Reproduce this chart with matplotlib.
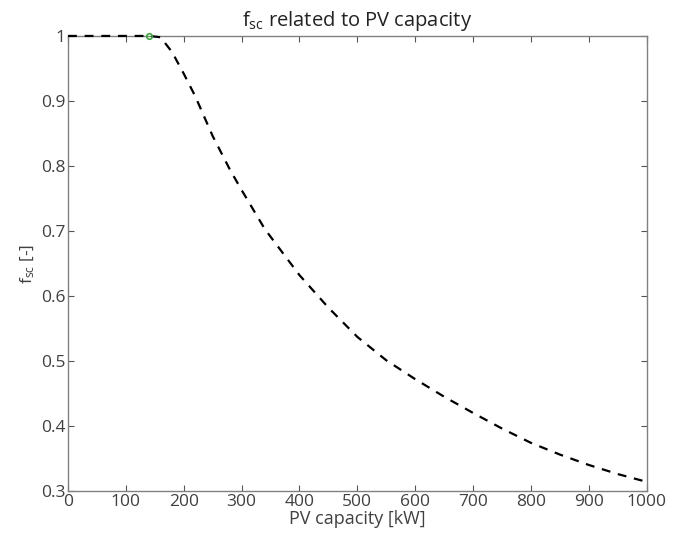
import matplotlib
matplotlib.use("Agg")
import matplotlib.pyplot as plt

# PV capacity [kW] and f_sc
pv_kw = [0, 50, 100, 140, 160, 180, 200, 220, 250, 280, 300, 340, 400, 450,
         500, 550, 600, 650, 700, 750, 800, 850, 900, 950, 1000]
f_sc = [1.0, 1.0, 1.0, 1.0, 0.998, 0.975, 0.942, 0.907, 0.846, 0.794, 0.763,
        0.703, 0.632, 0.582, 0.537, 0.501, 0.472, 0.445, 0.420, 0.396, 0.374,
        0.356, 0.340, 0.326, 0.314]

marker_x = [140]
marker_y = [1.0]

x_ticks = [0, 100, 200, 300, 400, 500, 600, 700, 800, 900, 1000]
y_ticks = [0.3, 0.4, 0.5, 0.6, 0.7, 0.8, 0.9, 1.0]
y_labels = ["0.3", "0.4", "0.5", "0.6", "0.7", "0.8", "0.9", "1"]

plt.rcParams["font.family"] = ["Open Sans", "DejaVu Sans"]
plt.rcParams["mathtext.fontset"] = "custom"
plt.rcParams["mathtext.rm"] = "Open Sans"

fig = plt.figure(figsize=(6.73, 5.43), dpi=100)
ax = fig.add_axes([0.101, 0.0958, 0.860, 0.838])

ax.plot(pv_kw, f_sc, color="black", linestyle=(0, (4, 3.5)), linewidth=1.6,
        clip_on=False, zorder=3)
ax.plot(marker_x, marker_y, "o", color="#3aaa3a", markerfacecolor="none",
        markersize=4, markeredgewidth=1.2, clip_on=False, zorder=4)

ax.set_xlim(0, 1000)
ax.set_ylim(0.3, 1.0)
ax.set_xticks(x_ticks)
ax.set_yticks(y_ticks)
ax.set_yticklabels(y_labels)

ax.tick_params(direction="in", top=True, right=True, length=4, width=0.8,
               colors="#555555", labelcolor="#404040", labelsize=12.5, pad=2)
for s in ax.spines.values():
    s.set_color("#808080")
    s.set_linewidth(1.0)

ax.set_title(r"$\mathregular{f_{sc}}$ related to PV capacity", fontsize=14.5,
             color="#222222", pad=7)
ax.set_xlabel("PV capacity [kW]", fontsize=13, color="#404040", labelpad=0)
ax.set_ylabel(r"$\mathregular{f_{sc}}$ [-]", fontsize=12.5, color="#404040",
              labelpad=3)

fig.savefig("out.png", dpi=100)
